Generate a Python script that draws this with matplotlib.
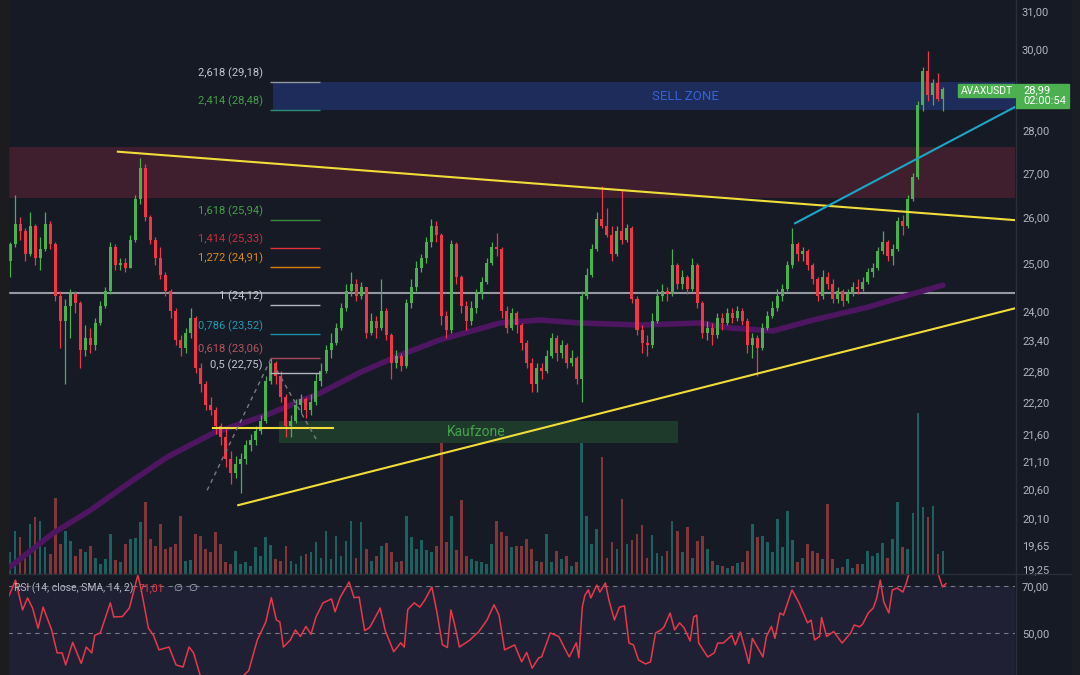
import numpy as np
import matplotlib
matplotlib.use("Agg")
import matplotlib.pyplot as plt
from matplotlib.patches import Rectangle
from matplotlib.lines import Line2D
from matplotlib.ticker import FixedLocator, FixedFormatter, NullLocator, NullFormatter
from matplotlib.transforms import offset_copy

# ---------------- data ----------------
first_open = 25.05
close = [
    25.40, 25.85, 25.70, 25.20, 25.80, 25.10, 25.30, 25.85, 25.40, 24.30,
    23.80, 24.10, 24.35, 24.15, 23.20, 23.45, 23.30, 23.75, 24.10, 24.40,
    25.35, 24.95, 25.00, 24.90, 25.50, 26.40, 27.10, 26.00, 25.50, 25.10,
    24.75, 24.40, 24.00, 23.40, 23.25, 23.55, 23.85, 22.85, 22.55, 22.15,
    22.05, 21.75, 21.55, 21.15, 20.90, 21.05, 21.15, 21.40, 21.50, 21.65,
    21.85, 22.60, 22.95, 22.70, 22.30, 21.75, 21.85, 22.15, 22.25, 22.05,
    22.20, 22.60, 22.80, 23.20, 23.35, 23.65, 24.05, 24.40, 24.55, 24.30,
    24.50, 23.55, 23.80, 23.65, 24.00, 23.50, 22.95, 23.10, 22.90, 24.15,
    24.50, 24.90, 25.10, 25.45, 25.80, 25.60, 23.90, 23.60, 25.40, 24.70,
    24.10, 23.80, 24.05, 24.35, 24.60, 25.00, 25.35, 25.30, 24.00, 23.65,
    23.95, 23.70, 23.35, 22.95, 22.55, 22.85, 22.80, 23.10, 23.45, 23.15,
    23.30, 22.95, 23.05, 22.65, 24.30, 24.75, 25.30, 25.95, 25.80, 25.60,
    25.20, 25.70, 25.50, 25.75, 24.25, 23.60, 23.35, 23.30, 23.80, 24.30,
    24.40, 24.35, 24.95, 24.55, 24.70, 24.45, 24.95, 24.15, 23.55, 23.65,
    23.50, 23.85, 23.75, 23.95, 23.85, 24.00, 23.80, 23.30, 23.45, 23.25,
    23.65, 23.90, 24.05, 24.30, 24.45, 24.95, 25.40, 25.20, 25.25, 24.95,
    24.65, 24.30, 24.70, 24.55, 24.25, 24.40, 24.20, 24.35, 24.50, 24.45,
    24.60, 24.80, 24.90, 25.25, 25.45, 25.15, 25.30, 25.90, 25.80, 26.40,
    26.90, 28.60, 29.45, 28.85, 29.15, 28.75, 28.99,
]
high = [
    25.45, 26.50, 26.00, 25.75, 26.10, 25.85, 25.55, 26.10, 25.90, 25.45,
    24.40, 24.25, 24.45, 24.40, 24.20, 23.70, 23.65, 23.85, 24.20, 24.50,
    25.45, 25.40, 25.10, 25.10, 25.60, 26.50, 27.35, 27.20, 26.05, 25.55,
    25.35, 24.80, 24.45, 24.05, 23.50, 23.65, 24.05, 23.90, 22.95, 22.60,
    22.30, 22.10, 21.80, 21.70, 21.30, 21.20, 21.25, 21.50, 21.60, 21.75,
    21.95, 22.70, 23.06, 23.00, 22.80, 22.35, 21.95, 22.25, 22.35, 22.30,
    22.35, 22.75, 22.95, 23.30, 23.55, 23.75, 24.15, 24.55, 24.80, 24.65,
    24.60, 24.50, 23.95, 23.90, 24.65, 24.05, 23.55, 23.20, 23.15, 24.25,
    24.65, 25.05, 25.20, 25.55, 25.95, 25.90, 25.65, 24.00, 25.50, 25.45,
    24.75, 24.20, 24.20, 24.45, 24.70, 25.10, 25.45, 25.65, 25.35, 24.10,
    24.05, 24.00, 23.75, 23.40, 23.05, 22.95, 22.95, 23.20, 23.55, 23.50,
    23.40, 23.35, 23.20, 23.10, 24.40, 24.90, 25.40, 26.10, 26.70, 26.20,
    25.80, 25.80, 26.60, 25.85, 25.80, 24.30, 23.70, 23.50, 23.95, 24.45,
    24.55, 24.50, 25.30, 25.00, 24.85, 24.75, 25.10, 25.00, 24.20, 23.80,
    23.75, 23.95, 23.95, 24.05, 24.05, 24.10, 24.05, 23.85, 23.55, 23.50,
    23.75, 24.00, 24.20, 24.45, 24.55, 25.05, 25.75, 25.45, 25.35, 25.30,
    25.00, 24.70, 24.85, 24.80, 24.65, 24.50, 24.45, 24.45, 24.60, 24.65,
    24.70, 24.90, 25.00, 25.35, 25.70, 25.50, 25.40, 26.00, 26.05, 26.50,
    27.00, 28.70, 29.55, 29.95, 29.25, 29.40, 29.05,
]
low = [
    24.70, 25.35, 25.50, 25.05, 25.15, 24.95, 24.85, 25.25, 25.30, 24.20,
    23.25, 22.55, 23.45, 23.95, 22.85, 23.10, 23.15, 23.20, 23.70, 24.05,
    24.35, 24.85, 24.85, 24.80, 24.90, 25.45, 26.30, 25.90, 25.40, 24.95,
    24.65, 24.30, 23.85, 23.30, 23.10, 23.15, 23.45, 22.75, 22.40, 22.05,
    21.95, 21.60, 21.40, 21.00, 20.70, 20.80, 20.55, 21.05, 21.30, 21.40,
    21.60, 21.80, 22.55, 22.55, 22.20, 21.55, 21.55, 21.80, 22.00, 21.90,
    21.95, 22.15, 22.50, 22.75, 23.05, 23.30, 23.60, 24.00, 24.30, 24.20,
    24.25, 23.45, 23.50, 23.45, 23.60, 23.40, 22.65, 22.85, 22.80, 22.85,
    24.05, 24.40, 24.80, 25.00, 25.35, 25.45, 23.70, 23.45, 23.55, 24.55,
    23.95, 23.60, 23.70, 23.95, 24.25, 24.55, 24.95, 25.15, 23.85, 23.55,
    23.60, 23.55, 23.20, 22.85, 22.40, 22.40, 22.65, 22.75, 23.05, 23.00,
    23.05, 22.85, 22.90, 22.55, 22.20, 24.25, 24.70, 25.25, 25.75, 25.55,
    25.05, 25.15, 25.40, 25.45, 24.15, 23.50, 23.15, 23.10, 23.25, 23.75,
    24.20, 24.20, 24.30, 24.45, 24.45, 24.35, 24.40, 24.05, 23.45, 23.40,
    23.30, 23.45, 23.60, 23.70, 23.75, 23.80, 23.70, 23.15, 23.05, 22.70,
    23.20, 23.60, 23.85, 24.00, 24.20, 24.40, 24.90, 25.05, 25.05, 24.85,
    24.55, 24.20, 24.25, 24.45, 24.15, 24.15, 24.10, 24.15, 24.30, 24.35,
    24.40, 24.55, 24.70, 24.85, 25.20, 25.05, 24.95, 25.25, 25.60, 25.75,
    26.35, 26.85, 28.45, 28.70, 28.60, 28.70, 28.45,
]
volume = [
    22, 43, 37, 22, 50, 57, 53, 27, 20, 76,
    30, 43, 33, 18, 25, 22, 28, 16, 10, 15,
    40, 14, 12, 30, 35, 36, 52, 72, 35, 28,
    50, 25, 27, 30, 58, 13, 14, 40, 38, 25,
    22, 42, 30, 12, 10, 23, 10, 12, 8, 27,
    18, 37, 29, 15, 13, 28, 13, 10, 18, 20,
    22, 32, 16, 43, 15, 38, 18, 33, 53, 16,
    52, 25, 13, 18, 28, 31, 22, 12, 13, 58,
    37, 25, 34, 24, 22, 28, 143, 32, 58, 24,
    74, 18, 15, 13, 12, 10, 30, 53, 42, 38,
    27, 28, 28, 35, 25, 13, 12, 40, 12, 23,
    15, 18, 8, 12, 143, 58, 30, 45, 116, 16,
    32, 25, 75, 30, 34, 40, 49, 16, 39, 21,
    18, 23, 53, 43, 22, 47, 16, 33, 38, 25,
    13, 9, 8, 6, 8, 11, 12, 23, 50, 37,
    38, 32, 22, 55, 27, 63, 34, 12, 16, 30,
    23, 21, 15, 70, 15, 6, 7, 15, 6, 10,
    10, 23, 18, 21, 31, 16, 35, 72, 27, 25,
    61, 160, 67, 57, 68, 20, 23,
]
# moving average (bar position, value)
ma_bar = [-0.4, 8.6, 16.0, 23.9, 31.3, 40.5, 51.2, 61.8, 69.8, 77.8, 85.7,
          97.7, 105.7, 113.6, 125.6, 137.6, 143.5, 152.1, 160.1, 170.9, 180.0, 186.0]
ma_val = [19.26, 19.85, 20.24, 20.73, 21.18, 21.62, 21.96, 22.37, 22.77, 23.11, 23.41,
          23.75, 23.81, 23.75, 23.71, 23.75, 23.65, 23.59, 23.81, 24.07, 24.35, 24.53]
# RSI (bar position, value)
rsi_bar = [-0.3, 1.1, 2.5, 3.5, 4.5, 5.6, 6.6, 8.3, 9.4, 10.4, 11.1, 12.5, 14.2, 15.2,
           16.3, 16.9, 18.0, 20.0, 20.7, 22.4, 23.8, 25.5, 26.2, 27.6, 28.6, 29.7,
           31.7, 33.1, 34.5, 35.7, 36.6, 37.9, 39.2, 41.0, 43.0, 45.0, 46.6, 47.6,
           49.3, 51.0, 52.1, 53.1, 53.8, 54.5, 55.9, 56.9, 57.9, 59.0, 60.0, 61.0,
           62.4, 64.1, 64.8, 65.8, 67.6, 68.6, 69.6, 70.7, 71.7, 72.7, 73.8, 74.8,
           76.5, 77.9, 78.6, 79.3, 80.6, 81.7, 82.7, 84.1, 85.1, 86.2, 87.2, 87.9,
           88.6, 89.6, 91.7, 92.4, 93.4, 95.1, 96.5, 97.5, 98.6, 100.6, 102.0, 103.0,
           104.1, 105.4, 106.0, 106.7, 107.7, 109.4, 110.5, 111.5, 112.9, 113.4,
           114.1, 114.6, 115.3, 115.8, 117.0, 117.6, 118.7, 119.4, 120.5, 121.5,
           122.5, 123.4, 124.3, 125.3, 126.7, 127.7, 128.7, 129.8, 130.4, 131.6,
           132.5, 133.5, 134.4, 135.6, 136.3, 136.9, 137.3, 139.1, 140.4, 141.1,
           142.2, 143.9, 144.6, 145.6, 146.6, 147.3, 148.0, 150.1, 150.8, 151.8,
           152.5, 153.5, 154.2, 155.9, 157.3, 159.0, 159.7, 160.4, 161.4, 161.8,
           162.8, 164.2, 165.9, 167.6, 168.3, 169.4, 170.0, 171.1, 172.1, 172.8,
           173.5, 174.2, 175.2, 175.9, 176.9, 178.0, 178.7, 179.3, 180.4, 181.4,
           182.4, 183.4, 184.2, 184.9, 185.9, 186.6]
rsi_val = [65.3, 72.5, 59.8, 64.9, 60.6, 52.0, 61.0, 51.3, 41.5, 41.5, 36.4, 46.0, 37.0, 44.0,
           41.5, 49.0, 50.0, 62.8, 56.8, 57.0, 60.6, 74.7, 68.0, 52.0, 49.0, 42.8,
           44.0, 36.4, 35.5, 44.0, 41.5, 32.0, 29.0, 27.0, 25.0, 27.0, 32.0, 34.0,
           47.0, 54.7, 65.0, 55.5, 54.7, 44.0, 47.0, 51.3, 48.5, 52.8, 49.4, 56.8,
           62.8, 64.5, 59.0, 65.0, 71.7, 65.0, 65.3, 51.0, 52.3, 56.2, 60.6, 51.0,
           42.0, 45.8, 44.0, 60.0, 62.8, 61.0, 64.0, 69.6, 59.0, 45.0, 43.8, 59.8,
           54.0, 44.0, 47.0, 48.5, 50.4, 55.5, 62.0, 57.6, 42.8, 44.9, 37.7, 41.7,
           35.0, 39.4, 39.8, 44.0, 50.0, 48.5, 43.8, 39.8, 45.8, 39.4,
           61.0, 66.0, 68.3, 64.9, 70.4, 67.4, 71.3, 64.0, 55.5, 61.0,
           61.5, 45.7, 44.9, 38.5, 36.8, 37.7, 50.0, 51.3, 52.6, 58.5,
           51.3, 54.3, 52.1, 46.6, 56.8, 57.6, 45.7, 39.8, 41.5, 45.7,
           45.7, 49.0, 44.9, 50.4, 42.8, 37.0, 47.7, 39.8, 48.5, 52.8,
           47.7, 58.5, 57.6, 68.3, 62.8, 54.3, 55.5, 47.0, 48.5, 56.6,
           48.5, 50.6, 45.7, 50.0, 53.4, 52.6, 53.8, 58.5, 60.6, 64.9,
           72.5, 63.2, 58.5, 68.3, 69.1, 67.4, 71.3, 76.0, 82.0, 86.0,
           80.0, 78.0, 77.0, 76.0, 69.6, 71.0]
price_ticks = [31.0, 30.0, 29.0, 28.0, 27.0, 26.0, 25.0, 24.0, 23.4, 22.8,
               22.2, 21.6, 21.1, 20.6, 20.1, 19.65, 19.25]
rsi_ticks = [70.0, 50.0]
fib_ratio = ["2,618", "2,414", "1,618", "1,414", "1,272", "1", "0,786", "0,618", "0,5"]
fib_price = [29.18, 28.48, 25.94, 25.33, 24.91, 24.12, 23.52, 23.06, 22.75]
fib_text_color = ["#c3c6ce", "#43a047", "#43a047", "#c8303f", "#d98c1c",
                  "#c3c6ce", "#1e9bb3", "#b5545e", "#c3c6ce"]
fib_line_color = ["#9598a1", "#2f8f7a", "#3b8a3e", "#e0323f", "#d98200",
                  "#b2b5be", "#1a8ea3", "#a84a55", "#b2b5be"]
last_price_text = "28,99"
countdown_text = "02:00:54"
symbol = "AVAXUSDT"
rsi_title = "RSI (14, close, SMA, 14, 2)"
rsi_last = "71,01"

# ---------------- style ----------------
plt.rcParams['font.family'] = ['Roboto', 'DejaVu Sans']
W, H = 1080, 675
BG = '#161a25'
GREEN = '#4caf50'
RED = '#f23645'
GRID = '#2a2e39'
TXT = '#b2b5be'

fig = plt.figure(figsize=(W / 100, H / 100), dpi=100, facecolor=BG)


def fx(px):
    return px / W


def fy(py):
    return 1 - py / H


PANE_Y = 574
L_PX, R_PX = 8, 1015
main_rect = [fx(L_PX), fy(PANE_Y), (R_PX - L_PX) / W, PANE_Y / H]
rsi_rect = [fx(L_PX), 0, (R_PX - L_PX) / W, (H - PANE_Y) / H]

axv = fig.add_axes(main_rect, zorder=0)
ax = fig.add_axes(main_rect, zorder=1)
axr = fig.add_axes(rsi_rect, zorder=1)

BAR_PX = 5.016
xl = ((L_PX - 10) / BAR_PX, (R_PX - 10) / BAR_PX)

c = np.array(close)
o = np.array([first_open] + close[:-1])
hi = np.maximum(np.array(high), np.maximum(o, c))
lo = np.minimum(np.array(low), np.minimum(o, c))
idx = np.arange(len(c))
up = c >= o
colors = np.where(up, GREEN, RED)

# volume
axv.set_facecolor(BG)
vcol = np.where(up, '#26a69a', '#ef5350')
axv.bar(idx, volume, width=0.55, color=vcol, alpha=0.5, linewidth=0)
axv.set_xlim(*xl)
axv.set_ylim(0, max(volume) / 0.28)
axv.axis('off')

# price pane
ax.patch.set_visible(False)
ax.set_yscale('log')
ax.set_xlim(*xl)
ax.set_ylim(19.17, 31.29)

# zones
ax.axhspan(26.43, 27.60, color='#3f1f2d', zorder=1, lw=0)
ax.fill_between([52.4, xl[1]], 28.48, 29.18, color='#1d2c5a', zorder=1, lw=0)
ax.fill_between([53.6, 133.2], 21.44, 21.84, color='#1e3a2b', zorder=1, lw=0)
ax.text(134.6, 28.82, 'SELL ZONE', color='#3462d6', fontsize=9.5, ha='center', va='center', zorder=2)
ax.text(92.9, 21.64, 'Kaufzone', color='#45a34e', fontsize=10, ha='center', va='center', zorder=2)

# horizontal grey level
ax.axhline(24.37, color='#9598a1', lw=1.5, zorder=2)

# moving average
ax.plot(ma_bar, ma_val, color='#4e1660', lw=4.0, solid_capstyle='round', zorder=3)

# candles
ax.vlines(idx, lo, hi, colors=colors, lw=0.9, zorder=4)
body_lo = np.minimum(o, c)
body_h = np.maximum(np.abs(c - o), 0.02)
ax.bar(idx, body_h, bottom=body_lo, width=0.6, color=colors, linewidth=0, zorder=5)

# trend lines
ax.plot([21.5, xl[1]], [27.49, 25.93], color='#f0dc3a', lw=1.5, zorder=6)
ax.plot([45.5, xl[1]], [20.33, 24.05], color='#f0dc3a', lw=1.5, zorder=6)
ax.plot([40.5, 64.4], [21.71, 21.71], color='#f0dc3a', lw=1.5, zorder=6)
ax.plot([156.5, xl[1]], [25.86, 28.56], color='#1ea5c6', lw=1.5, zorder=6)
ax.plot([39.3, 52.2], [20.59, 23.07], color='#787b86', lw=1, ls=(0, (3, 3)), zorder=6)
ax.plot([53.2, 61.4], [22.81, 21.45], color='#787b86', lw=1, ls=(0, (3, 3)), zorder=6)

# fibonacci levels
lab_tr = offset_copy(ax.transData, fig=fig, x=0, y=8.5, units='dots')
for r, p, tc, lc in zip(fib_ratio, fib_price, fib_text_color, fib_line_color):
    ax.hlines(p, 51.8, 61.8, color=lc, lw=1, zorder=6)
    ax.text(50.4, p, f"{r} ({p:.2f})".replace('.', ','), transform=lab_tr, ha='right',
            va='center', color=tc, fontsize=8, zorder=7)

# price axis
ax.yaxis.tick_right()
ax.yaxis.set_major_locator(FixedLocator(price_ticks))
ax.yaxis.set_major_formatter(FixedFormatter([f"{v:.2f}".replace('.', ',') for v in price_ticks]))
ax.yaxis.set_minor_locator(NullLocator())
ax.yaxis.set_minor_formatter(NullFormatter())
ax.tick_params(axis='y', length=0, pad=5, labelsize=8, labelcolor=TXT)
ax.set_xticks([])
for s in ax.spines.values():
    s.set_visible(False)

# RSI pane
axr.set_facecolor(BG)
axr.set_xlim(*xl)
axr.set_ylim(32.1, 75.1)
axr.axhspan(30, 70, color='#7e57c2', alpha=0.1, lw=0)
for lvl in (70, 50, 30):
    axr.axhline(lvl, color='#787b86', lw=0.8, ls=(0, (4, 4)))
axr.plot(rsi_bar, rsi_val, color='#e8384a', lw=1.1)
axr.yaxis.tick_right()
axr.set_yticks(rsi_ticks)
axr.set_yticklabels([f"{v:.2f}".replace('.', ',') for v in rsi_ticks])
axr.tick_params(axis='y', length=0, pad=5, labelsize=8, labelcolor=TXT)
axr.set_xticks([])
for s in axr.spines.values():
    s.set_visible(False)

t1 = axr.text(fx(14 - L_PX) * W / (R_PX - L_PX), 1 - 14 / (H - PANE_Y), rsi_title,
              transform=axr.transAxes, color=TXT, fontsize=7.5, va='center', ha='left', zorder=12)
t2 = axr.annotate(rsi_last, xy=(1, 0.5), xycoords=t1, xytext=(3.5, 0), textcoords='offset points',
                  color=RED, fontsize=7.5, va='center', ha='left', zorder=12)
t3 = axr.annotate('\u2205', xy=(1, 0.5), xycoords=t2, xytext=(7, 0), textcoords='offset points',
                  color=TXT, fontsize=7.5, va='center', ha='left', zorder=12)
t4 = axr.annotate('\u2205', xy=(1, 0.5), xycoords=t3, xytext=(4, 0), textcoords='offset points',
                  color=TXT, fontsize=7.5, va='center', ha='left', zorder=12)

# frame lines
fig.add_artist(Line2D([fx(R_PX + 0.5)] * 2, [0, 1], color=GRID, lw=1, zorder=9))
fig.add_artist(Line2D([fx(L_PX), 1], [fy(PANE_Y)] * 2, color=GRID, lw=1, zorder=9))
fig.add_artist(Rectangle((0, 0), fx(L_PX), 1, transform=fig.transFigure, color='#1c1c1f', zorder=9))
fig.add_artist(Rectangle((fx(1072), 0), fx(8), 1, transform=fig.transFigure, color='#1b1d25', zorder=9))

# last price labels
fig.add_artist(Rectangle((fx(958), fy(97)), 57 / W, 13 / H, transform=fig.transFigure,
                         color=GREEN, zorder=10))
fig.text(fx(986.5), fy(91), symbol, color='white', fontsize=7.5, ha='center', va='center', zorder=11)
fig.add_artist(Rectangle((fx(1016), fy(108)), 53 / W, 24 / H, transform=fig.transFigure,
                         color=GREEN, zorder=10))
fig.text(fx(1023), fy(90.5), last_price_text, color='white', fontsize=8, ha='left', va='center', zorder=11)
fig.text(fx(1023), fy(101.5), countdown_text, color='white', fontsize=8, ha='left', va='center', zorder=11)

fig.savefig('out.png', dpi=100, facecolor=BG)
